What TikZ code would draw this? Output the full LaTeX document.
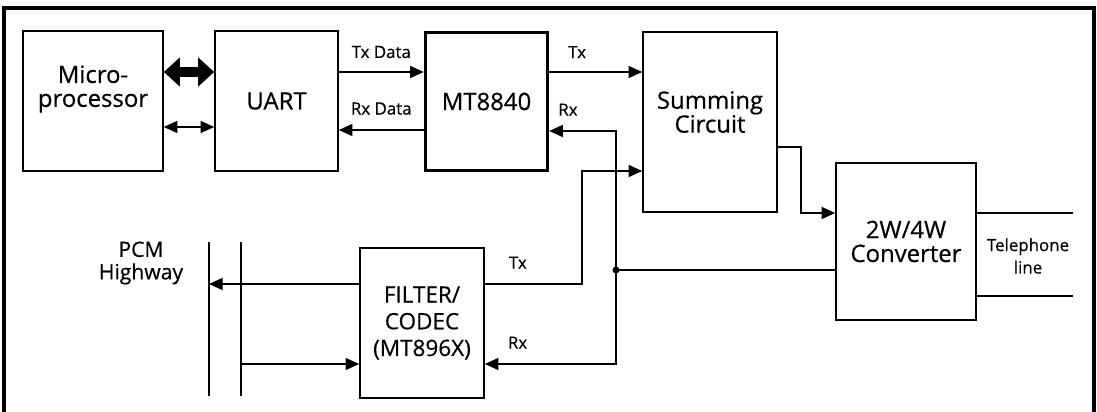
\documentclass[tikz,border=0pt]{standalone}
\usepackage{fontspec}
\setmainfont{Open Sans}[BoldFont={Open Sans}, BoldFeatures={FakeBold=0.5}]
\usetikzlibrary{arrows.meta}

\begin{document}
\begin{tikzpicture}[x=0.025cm, y=-0.025cm, line width=1.1pt,
  >={Triangle[length=0.34cm, width=0.3cm]},
  blk/.style={draw, line width=1.1pt, inner sep=0pt, align=center, font=\fontsize{17}{17}\selectfont\bfseries},
  blktxt/.style={align=center, font=\fontsize{17}{17}\selectfont\bfseries},
  lbl/.style={align=center, font=\fontsize{12}{16}\selectfont\bfseries},
  bus/.style={line width=7.5pt, {Triangle[length=0.4cm, width=0.7cm]}-{Triangle[length=0.4cm, width=0.7cm]}}]
\useasboundingbox (0,0) rectangle (1097,412);
\draw[line width=3pt] (4,412) |- (1094,8) -- (1094,412);

\node[blk, minimum width=3.5cm, minimum height=3.5cm, label={[blktxt, yshift=0.3cm]center:Micro-\\processor}] (micro) at (93,101) {};
\node[blk, minimum width=3.075cm, minimum height=3.5cm] (uart) at (276.5,101) {UART};
\node[blk, line width=2.5pt, minimum width=3.05cm, minimum height=3.45cm] (mt) at (486.5,101.5) {MT8840};
\node[blk, minimum width=3.35cm, minimum height=4.5cm, label={[blktxt, yshift=0.25cm]center:Summing\\Circuit}] (sum) at (710,122) {};
\node[blk, minimum width=3.5cm, minimum height=3.925cm] (conv) at (906,241.5) {2W/4W\\Converter};
\node[blk, minimum width=3.1cm, minimum height=3.75cm, font=\fontsize{16}{19}\selectfont\bfseries] (codec) at (422,323) {FILTER/\\CODEC\\(MT896X)};

\node[lbl, font=\fontsize{15}{16}\selectfont\bfseries] (pcm) at (141,263) {PCM\\Highway};
\node[lbl] (tel) at (1028,256) {Telephone\\line};

\coordinate (jn) at (616,270);
\coordinate (tbend) at (582,171);
\coordinate (obend) at (801,213);
\coordinate (pcmAt) at (209,242);
\coordinate (pcmAb) at (209,396);
\coordinate (pcmBt) at (241,242);
\coordinate (pcmBb) at (241,396);
\coordinate (telA) at (1073,213);
\coordinate (telB) at (1073,296);

% processor side
\draw[bus] (micro.east |- 0,72) -- (uart.west |- 0,72);
\draw[<->] (micro.east |- 0,127) -- (uart.west |- 0,127);
\draw[->] (uart.east |- 0,72) -- node[lbl, above=6pt] {Tx Data} (mt.west |- 0,72);
\draw[<-] (uart.east |- 0,130) -- node[lbl, above=7pt] {Rx Data} (mt.west |- 0,130);

% line side
\draw[->] (mt.east |- 0,72) -- node[lbl, above=6pt, pos=0.3] {Tx} (sum.west |- 0,72);
\draw[<->] (mt.east |- 0,131) -| node[lbl, above=7pt, pos=0.14] {Rx} (jn) |- node[lbl, above=7pt, pos=0.875] {Rx} (codec.east |- 0,364);
\draw[->] (codec.east |- 0,284) -| node[lbl, above=7pt, pos=0.17] {Tx} (tbend) -- (sum.west |- tbend);
\draw[->] (sum.east |- 0,147) -| (obend) -- (conv.west |- obend);
\draw (conv.west |- jn) -- (jn);
\fill (jn) circle (3.5);
\draw (conv.east |- telA) -- (telA);
\draw (conv.east |- telB) -- (telB);

% PCM highway
\draw (pcmAt) -- (pcmAb);
\draw (pcmBt) -- (pcmBb);
\draw[->] (codec.west |- 0,284) -- (pcmAt |- 0,284);
\draw[->] (pcmBt |- 0,364) -- (codec.west |- 0,364);
\end{tikzpicture}
\end{document}
